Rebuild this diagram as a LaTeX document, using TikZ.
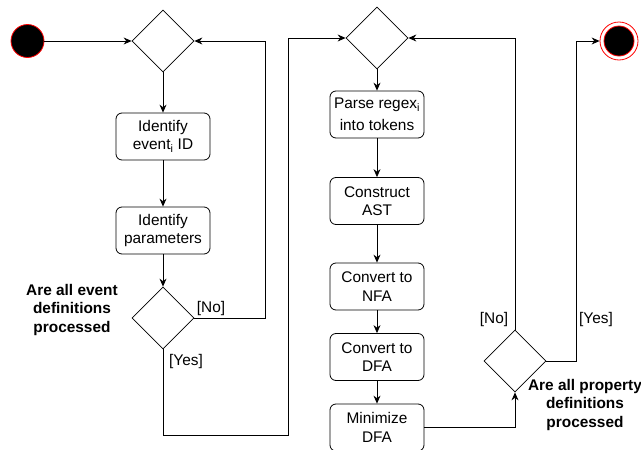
\documentclass[tikz,border=0pt]{standalone}
\usepackage{fontspec}
\setmainfont{Liberation Sans}
\usetikzlibrary{arrows.meta,shapes.geometric}
\begin{document}
\begin{tikzpicture}[x=1pt,y=-1pt,
  every node/.style={font=\fontsize{15.4}{18.5}\selectfont},
  actbox/.style={draw, rounded corners=6pt, minimum width=94pt, minimum height=47pt,
    align=center, inner sep=0pt, line width=0.8pt},
  choice/.style={draw, diamond, minimum width=62pt, minimum height=62pt,
    inner sep=0pt, line width=0.8pt},
  flow/.style={-{Stealth[length=8pt,width=7pt]}, line width=0.8pt},
  guard/.style={inner sep=0pt},
  question/.style={align=center, inner sep=0pt, font=\fontsize{15.4}{18.5}\selectfont\bfseries},
]
\useasboundingbox (0,0) rectangle (641,450);

% initial and final states
\node[circle, fill=black, draw=red, line width=0.8pt, minimum size=33pt, inner sep=0pt] (start) at (27.5,41) {};
\node[circle, draw=red, line width=0.8pt, minimum size=38pt, inner sep=0pt] (stop) at (619,41) {};
\node[circle, fill=black, draw=red, line width=0.8pt, minimum size=30pt, inner sep=0pt] (stopcore) at (stop) {};

% event definitions loop
\node[choice] (d1) at (163,41) {};
\node[actbox] (b1) at (163,136.5) {Identify\\event\textsubscript{i} ID};
\node[actbox] (b2) at (163,230.5) {Identify\\parameters};
\node[choice] (d2) at (163,318) {};

% property definitions loop
\node[choice] (d3) at (377,38) {};
\node[actbox] (b3) at (377,114.5) {Parse regex\textsubscript{i}\\[3pt]into tokens};
\node[actbox] (b4) at (377,201) {Construct\\AST};
\node[actbox] (b5) at (377,286.5) {Convert to\\NFA};
\node[actbox] (b6) at (377,357) {Convert to\\DFA};
\node[actbox] (b7) at (377,427.5) {Minimize\\DFA};
\node[choice] (d4) at (515,361) {};

\coordinate (noA) at (265,318);
\coordinate (yesA) at (288,435);
\coordinate (yesB) at (576,361);

% connectors
\draw[flow] (start) -- (d1.west);
\draw[flow] (d1) -- (b1);
\draw[flow] (b1) -- (b2);
\draw[flow] (b2) -- (d2);
\draw[flow] (d2.east) -- (noA) |- (d1.east);
\draw[flow] (d2.south) |- (yesA) |- (d3.west);
\draw[flow] (d3) -- (b3);
\draw[flow] (b3) -- (b4);
\draw[flow] (b4) -- (b5);
\draw[flow] (b5) -- (b6);
\draw[flow] (b6) -- (b7);
\draw[flow] (b7.east) -| (d4.south);
\draw[flow] (d4.north) |- (d3.east);
\draw[flow] (d4.east) -- (yesB) |- (stop.west);

% guards and questions
\node[guard] (no1) at (211,309) {[No]};
\node[guard] (yes1) at (186,362) {[Yes]};
\node[guard] (no2) at (494,320) {[No]};
\node[guard] (yes2) at (596,320) {[Yes]};
\node[question] (q1) at (72,310) {Are all event\\definitions\\processed};
\node[question] (q2) at (585,405) {Are all property\\definitions\\processed};
\end{tikzpicture}
\end{document}
